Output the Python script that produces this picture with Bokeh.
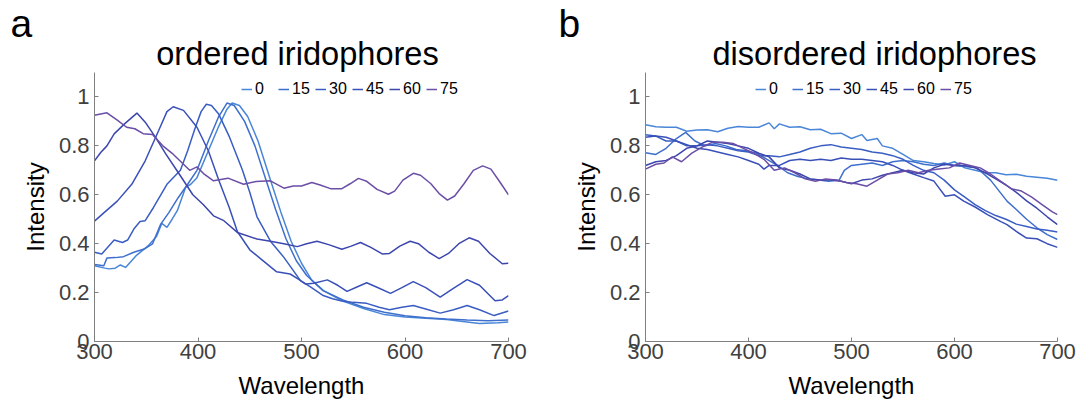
from bokeh.plotting import figure
from bokeh.layouts import row, column
from bokeh.models import (Range1d, FixedTicker, NumeralTickFormatter, Legend, LegendItem)
from bokeh.core.properties import value
from bokeh.embed import file_html
from bokeh.resources import INLINE

FONT = "Liberation Sans"

angles = ["0", "15", "30", "45", "60", "75"]
colors = ["#4a86d8", "#3f6fcc", "#3a5dc3", "#3a50b9", "#3c46ae", "#6b4ea6"]

x_ticks = [300, 400, 500, 600, 700]
y_ticks = [0, 0.2, 0.4, 0.6, 0.8, 1.0]

panel_letters = ["a", "b"]
panel_titles = ["ordered iridophores", "disordered iridophores"]

# ---------------- panel a : ordered iridophores ----------------
a0_x = [300, 310, 314, 320, 325, 330, 340, 352, 360, 365, 370, 375, 380, 388, 393, 399, 410, 420, 428, 433,
        440, 448, 458, 470, 480, 490, 500, 510, 521, 540, 560, 580, 600, 620, 640, 660, 672, 690, 700]
a0_y = [.31, .30, .297, .30, .313, .303, .35, .392, .43, .483, .467, .50, .535, .63, .643, .67, .78, .88, .95, .975,
        .965, .92, .82, .66, .53, .41, .32, .25, .208, .165, .135, .11, .10, .095, .09, .08, .074, .077, .08]

a15_x = [300, 309, 312, 320, 328, 338, 348, 356, 364, 372, 381, 390, 399, 410, 420, 428, 435, 445, 455, 465,
         475, 485, 495, 505, 521, 540, 560, 580, 600, 620, 640, 660, 680, 700]
a15_y = [.315, .31, .341, .343, .347, .365, .378, .399, .48, .528, .589, .643, .70, .82, .92, .975, .965, .90, .80, .67,
         .54, .42, .33, .27, .208, .17, .14, .12, .105, .097, .092, .088, .085, .088]

a30_x = [300, 307, 319, 327, 332, 338, 344, 349, 357, 370, 383, 390, 397, 403, 408, 413, 420, 430, 443, 450,
         457, 470, 483, 499, 509, 521, 530, 540, 550, 563, 575, 585, 597, 608, 620, 634, 647, 660, 672, 686, 700]
a30_y = [.365, .358, .415, .405, .415, .46, .491, .494, .548, .643, .70, .78, .87, .94, .97, .965, .93, .84, .70, .61,
         .51, .41, .344, .249, .222, .188, .175, .165, .16, .156, .14, .13, .14, .147, .133, .116, .13, .147, .13, .106, .125]

a45_x = [300, 309, 322, 336, 349, 362, 370, 376, 386, 399, 410, 420, 430, 438, 450, 463, 476, 489, 497, 504,
         512, 525, 535, 544, 553, 563, 574, 586, 597, 608, 620, 634, 646, 660, 672, 687, 694, 700]
a45_y = [.492, .526, .574, .643, .739, .863, .94, .96, .945, .876, .78, .66, .55, .45, .375, .33, .285, .276, .255, .235,
         .238, .252, .23, .205, .222, .24, .22, .197, .22, .245, .22, .181, .215, .253, .23, .167, .17, .188]

a60_x = [300, 306, 312, 319, 329, 341, 349, 359, 369, 382, 395, 405, 415, 425, 438, 457, 470, 483, 496, 505,
         515, 527, 539, 548, 557, 567, 578, 585, 595, 605, 613, 623, 633, 642, 652, 662, 671, 682, 694, 700]
a60_y = [.739, .773, .80, .849, .89, .934, .897, .835, .766, .684, .60, .56, .514, .494, .446, .419, .41, .40, .388, .40,
         .41, .395, .377, .39, .405, .385, .358, .36, .39, .41, .40, .365, .339, .36, .40, .424, .41, .36, .318, .32]

a75_x = [300, 312, 322, 331, 339, 347, 356, 366, 376, 386, 392, 399, 406, 415, 429, 444, 456, 470, 483, 492,
         500, 510, 518, 528, 539, 547, 555, 563, 573, 584, 590, 598, 608, 615, 625, 633, 641, 648, 657, 666,
         675, 683, 692, 700]
a75_y = [.925, .935, .905, .876, .87, .85, .846, .80, .766, .725, .70, .714, .684, .657, .668, .643, .654, .657, .627, .636,
         .636, .65, .64, .625, .625, .645, .667, .655, .622, .602, .615, .66, .688, .68, .645, .605, .578, .595, .645, .70,
         .718, .705, .65, .60]

# ---------------- panel b : disordered iridophores ----------------
b0_x = [300, 310, 320, 330, 340, 350, 360, 370, 380, 390, 400, 410, 420, 425, 430, 440, 450, 460, 470, 480,
        490, 500, 510, 515, 525, 530, 540, 550, 560, 570, 580, 590, 600, 610, 620, 630, 640, 650, 660, 670,
        680, 690, 700]
b0_y = [.886, .878, .876, .876, .86, .865, .866, .858, .872, .879, .876, .876, .894, .87, .89, .876, .878, .866, .868, .85,
        .852, .83, .846, .822, .83, .80, .79, .765, .74, .735, .728, .722, .735, .71, .70, .69, .69, .682, .684, .676,
        .672, .668, .659]

b15_x = [300, 310, 320, 330, 339, 348, 358, 368, 378, 388, 398, 408, 418, 428, 438, 448, 458, 468, 478, 488,
         493, 500, 510, 520, 530, 540, 550, 560, 570, 580, 590, 600, 612, 622, 635, 651, 660, 670, 680, 690, 700]
b15_y = [.772, .765, .79, .83, .855, .82, .80, .81, .80, .785, .78, .77, .745, .72, .69, .675, .665, .66, .655, .66,
         .70, .72, .725, .73, .72, .735, .74, .735, .725, .72, .73, .72, .715, .71, .66, .574, .54, .50, .465, .437, .417]

b30_x = [300, 310, 320, 330, 340, 350, 360, 370, 380, 390, 400, 410, 420, 430, 440, 450, 460, 470, 480, 490,
         500, 510, 520, 530, 540, 550, 560, 570, 580, 590, 600, 610, 620, 630, 640, 650, 660, 670, 680, 690, 700]
b30_y = [.845, .84, .82, .82, .80, .80, .805, .80, .79, .78, .775, .76, .76, .755, .765, .775, .79, .80, .805, .795,
         .79, .785, .775, .77, .76, .745, .72, .70, .69, .66, .62, .59, .56, .535, .515, .50, .48, .47, .46, .455, .448]

b45_x = [300, 310, 320, 330, 340, 350, 360, 370, 380, 390, 400, 410, 415, 420, 430, 440, 450, 460, 470, 480,
         490, 500, 510, 520, 530, 540, 550, 560, 570, 580, 591, 600, 609, 620, 632, 645, 651, 660, 670, 680, 690, 700]
b45_y = [.835, .84, .835, .82, .805, .79, .785, .775, .765, .755, .74, .725, .705, .72, .72, .74, .745, .74, .745, .74,
         .75, .745, .745, .74, .735, .72, .70, .685, .67, .656, .594, .60, .574, .55, .519, .49, .478, .45, .423, .42, .40, .385]

b60_x = [300, 310, 320, 330, 340, 350, 360, 370, 380, 390, 400, 410, 420, 430, 440, 450, 460, 470, 480, 490,
         500, 510, 520, 530, 540, 550, 560, 570, 580, 590, 600, 610, 620, 630, 640, 650, 660, 670, 680, 690, 700]
b60_y = [.72, .735, .74, .76, .79, .80, .82, .815, .81, .80, .79, .77, .755, .71, .70, .685, .665, .66, .66, .655,
         .645, .66, .665, .68, .69, .70, .69, .685, .71, .725, .72, .72, .71, .69, .665, .64, .61, .575, .545, .51, .478]

b75_x = [300, 310, 318, 326, 335, 345, 355, 365, 375, 385, 395, 405, 415, 425, 435, 445, 455, 465, 475, 485,
         495, 505, 515, 525, 535, 545, 555, 565, 575, 585, 595, 605, 615, 625, 635, 645, 655, 665, 675, 685, 695, 700]
b75_y = [.705, .725, .73, .755, .735, .77, .795, .815, .815, .81, .79, .77, .745, .70, .71, .69, .665, .655, .665, .66,
         .65, .645, .635, .66, .685, .69, .70, .69, .70, .705, .71, .73, .72, .71, .685, .655, .625, .615, .59, .56, .53, .519]

series_a = [(a0_x, a0_y), (a15_x, a15_y), (a30_x, a30_y), (a45_x, a45_y), (a60_x, a60_y), (a75_x, a75_y)]
series_b = [(b0_x, b0_y), (b15_x, b15_y), (b30_x, b30_y), (b45_x, b45_y), (b60_x, b60_y), (b75_x, b75_y)]

TOTAL_W = 1078
HEAD_H = 72


def make_header():
    h = figure(width=TOTAL_W, height=HEAD_H, title=None, output_backend="svg", toolbar_location=None,
               x_range=Range1d(0, TOTAL_W), y_range=Range1d(0, HEAD_H),
               x_axis_type=None, y_axis_type=None,
               min_border=0, min_border_left=0, min_border_right=0,
               min_border_top=0, min_border_bottom=0)
    h.outline_line_color = None
    h.grid.visible = False
    h.background_fill_color = "white"
    h.border_fill_color = "white"
    # y measured upward from the bottom of the header strip (text middles)
    h.text(x=[10, 558], y=[HEAD_H - 22.5, HEAD_H - 22.5], text=panel_letters, text_font=value(FONT),
           text_font_size="39px", text_baseline="middle", text_align="left",
           text_color="black")
    h.text(x=[297, 874], y=[HEAD_H - 52.5, HEAD_H - 52.5], text=panel_titles, text_font=value(FONT),
           text_font_size="32.6px", text_baseline="middle", text_align="center",
           text_color="black")
    return h


def make_panel(series, width, left, right, legend_x):
    p = figure(width=width, height=330, title=None, output_backend="svg", toolbar_location=None,
               x_range=Range1d(300, 700), y_range=Range1d(0, 1.1),
               min_border_left=left, min_border_right=right,
               min_border_top=0, min_border_bottom=61)
    p.outline_line_color = None
    p.grid.visible = False
    p.background_fill_color = "white"
    p.border_fill_color = "white"

    for ax in (p.xaxis[0], p.yaxis[0]):
        ax.axis_line_color = "#808080"
        ax.axis_line_width = 1
        ax.major_tick_line_color = "#808080"
        ax.major_tick_in = 4
        ax.major_tick_out = 0
        ax.minor_tick_line_color = None
        ax.major_label_text_font = FONT
        ax.major_label_text_font_size = "22px"
        ax.major_label_text_color = "#404040"
        ax.axis_label_text_font = FONT
        ax.axis_label_text_font_size = "24px"
        ax.axis_label_text_font_style = "normal"
        ax.axis_label_text_color = "black"

    p.xaxis.ticker = FixedTicker(ticks=x_ticks)
    p.yaxis.ticker = FixedTicker(ticks=y_ticks)
    p.yaxis.formatter = NumeralTickFormatter(format="0.[0]")
    p.xaxis.axis_label = "Wavelength"
    p.yaxis.axis_label = "Intensity"
    p.xaxis.major_label_standoff = 2
    p.xaxis.axis_label_standoff = 10
    p.yaxis.major_label_standoff = 5
    p.yaxis.axis_label_standoff = 7

    items = []
    for (xs, ys), lab, col in zip(series, angles, colors):
        r = p.line(xs, ys, line_color=col, line_width=1.5)
        items.append(LegendItem(label=lab, renderers=[r]))

    leg = Legend(items=items, orientation="horizontal", location=(legend_x, 243),
                 glyph_width=11, glyph_height=16, label_height=16, label_standoff=3,
                 spacing=3, padding=0, margin=0, border_line_color=None,
                 background_fill_alpha=0, label_text_font=FONT,
                 label_text_font_size="16px", label_text_color="black")
    p.add_layout(leg)
    return p


header = make_header()
pa = make_panel(series_a, 538, 94, 30, 147)
pb = make_panel(series_b, 540, 107, 21, 110)

layout = column(header, row(pa, pb))
open("out.html", "w").write(file_html(layout, INLINE))
